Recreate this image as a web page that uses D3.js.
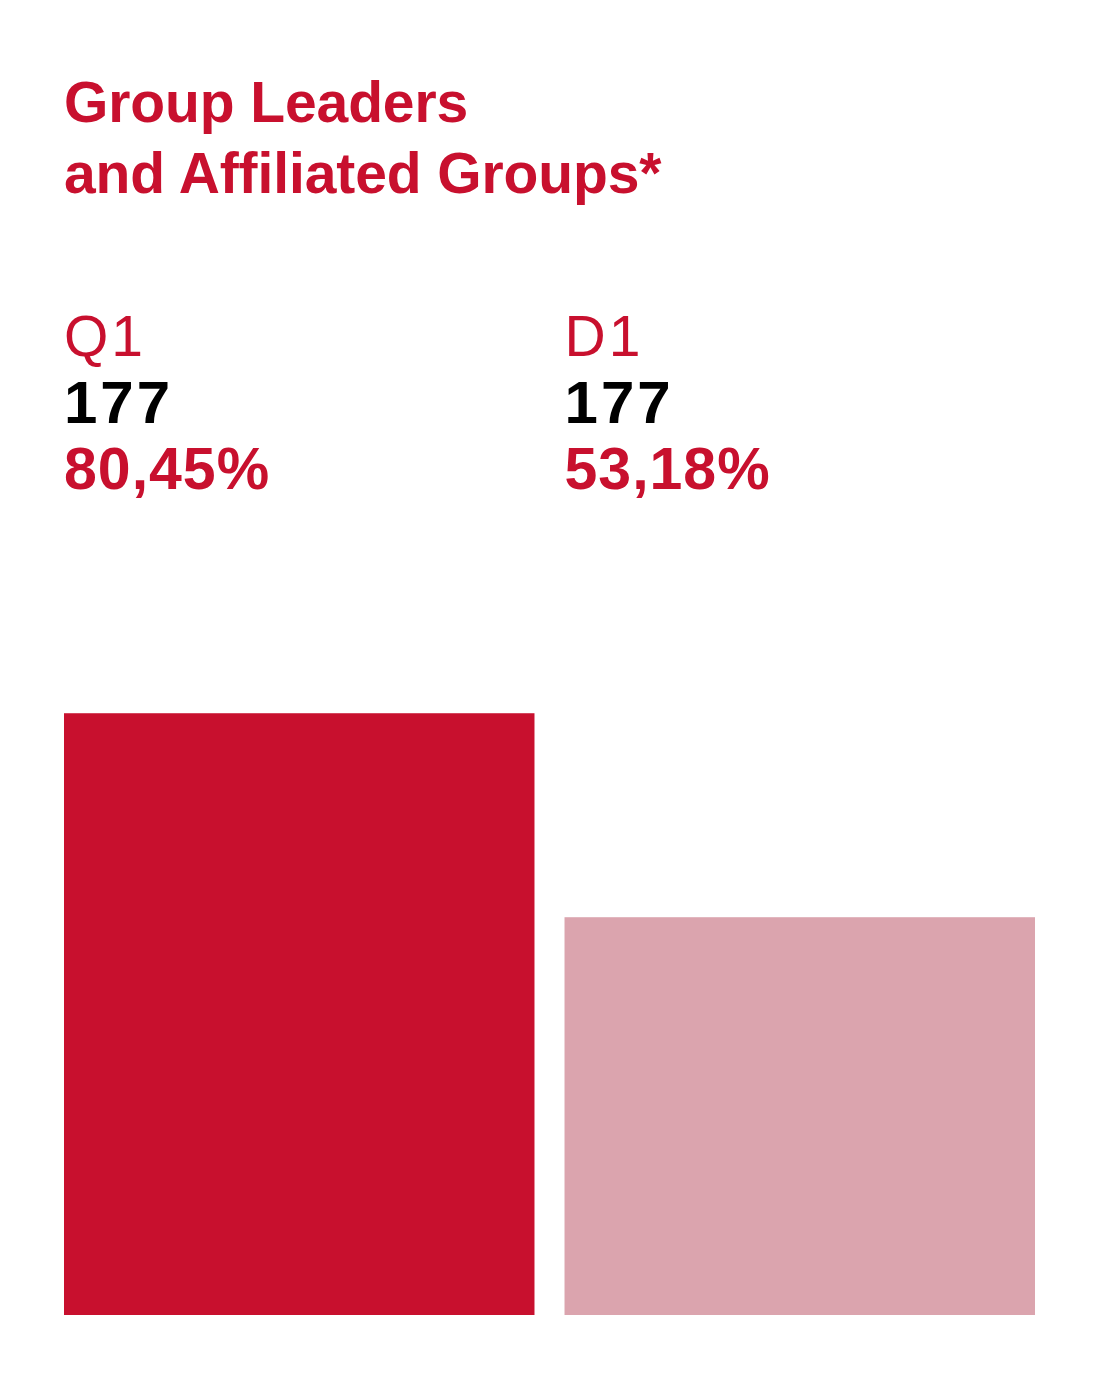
<html>
  <head>
    <meta charset="utf-8">
    <title>Group Leaders</title>
    <style>
      body { margin: 0; background: #fff; }
      text { font-family: "Liberation Sans", Arial, sans-serif; }
    </style>
  </head>
  <body>
    <script src="https://cdn.jsdelivr.net/npm/d3@7/dist/d3.min.js"></script>
    <script>
    var width = 1099;
    var height = 1380;

    // data
    var titleLines = ["Group Leaders", "and Affiliated Groups*"];
    var categories = ["Q1", "D1"];
    var counts = [177, 177];
    var percents = [80.45, 53.18];
    var percentLabels = ["80,45%", "53,18%"];
    var colors = ["#c8102e", "#dba4ae"];

    var red = "#c8102e";

    var svg = d3.select('body')
      .append('svg')
      .attr('width', width).attr('height', height);

    // title
    svg.selectAll('text.title')
      .data(titleLines)
      .enter()
      .append('text')
      .attr('class', 'title')
      .attr('x', 64)
      .attr('y', (d, i) => 122 + i * 71)
      .attr('fill', red)
      .attr('font-size', 57)
      .attr('font-weight', 'bold')
      .attr('letter-spacing', -0.1)
      .text(d => d);

    // scales
    var x = d3.scaleBand()
      .domain(categories)
      .range([64, 1035])
      .paddingInner(0.06)
      .paddingOuter(0);

    var y = d3.scaleLinear()
      .domain([0, 100])
      .range([1315, 1315 - 748]);

    var color = d3.scaleOrdinal()
      .domain(categories)
      .range(colors);

    // bars
    svg.selectAll('rect')
      .data(categories)
      .enter()
      .append('rect')
      .attr('x', d => x(d))
      .attr('y', (d, i) => y(percents[i]))
      .attr('width', x.bandwidth())
      .attr('height', (d, i) => y(0) - y(percents[i]))
      .attr('fill', d => color(d));

    // labels above
    var g = svg.selectAll('g.lab')
      .data(categories)
      .enter()
      .append('g')
      .attr('class', 'lab')
      .attr('transform', d => 'translate(' + x(d) + ',0)');

    g.append('text')
      .attr('y', 356)
      .attr('fill', red)
      .attr('font-size', 57)
      .attr('font-weight', 300)
      .attr('letter-spacing', 3)
      .text(d => d);

    g.append('text')
      .attr('y', 423)
      .attr('fill', '#000')
      .attr('font-size', 60)
      .attr('font-weight', 'bold')
      .attr('letter-spacing', 3)
      .text((d, i) => counts[i]);

    g.append('text')
      .attr('y', 489)
      .attr('fill', red)
      .attr('font-size', 59)
      .attr('font-weight', 'bold')
      .attr('letter-spacing', 1)
      .text((d, i) => percentLabels[i]);
    </script>
  </body>
</html>
